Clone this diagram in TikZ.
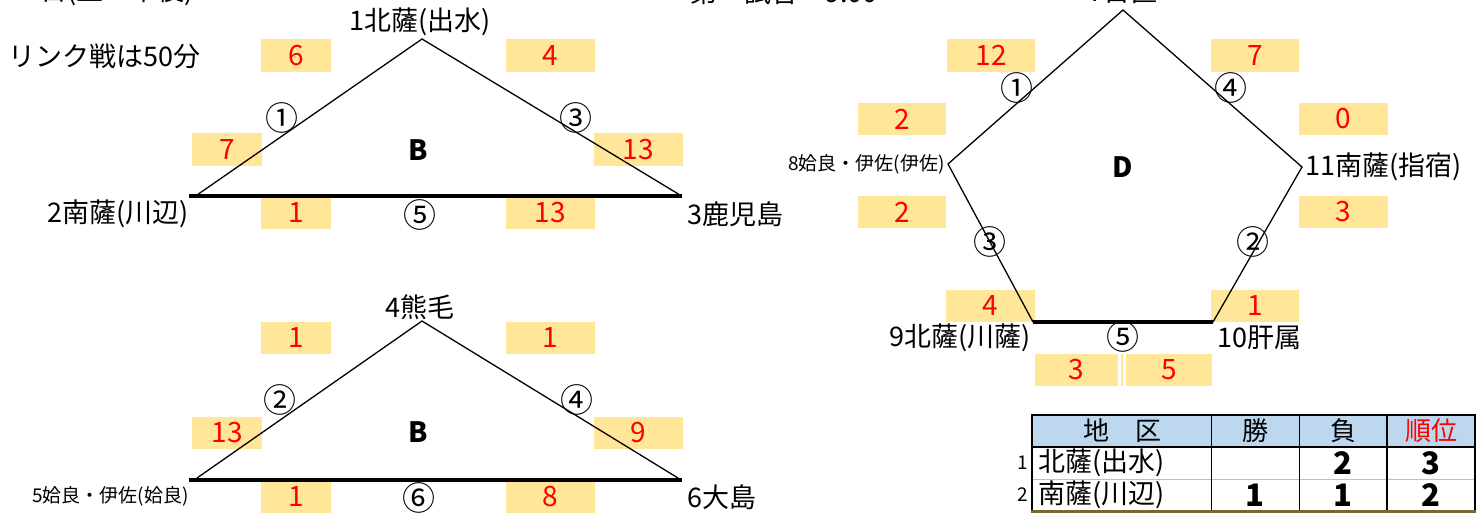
\documentclass[tikz,border=0pt]{standalone}
\usepackage{fontspec}
\setmainfont{Noto Sans CJK JP}
\definecolor{cellyel}{RGB}{255,230,153}
\definecolor{hdrblue}{RGB}{189,215,238}
\definecolor{rowbrown}{RGB}{125,100,50}
\newcommand\scorecell[6]{\fill[cellyel] (#2,#3) rectangle node[score] (#1) {#6} (#4,#5);}
\begin{document}
\begin{tikzpicture}[x=1pt,y=-1pt,
  lbl/.style={inner sep=0, font=\fontsize{27}{27}\selectfont},
  small/.style={inner sep=0, font=\fontsize{19}{19}\selectfont},
  circ/.style={inner sep=0, font=\fontsize{33}{33}\selectfont},
  grp/.style={inner sep=0, font=\fontsize{28}{28}\selectfont\bfseries},
  score/.style={inner sep=0, text=red, font=\fontsize{28}{28}\selectfont},
  tnum/.style={inner sep=0, font=\fontsize{31}{31}\selectfont\bfseries},
  thead/.style={inner sep=0, font=\fontsize{26}{26}\selectfont},
  tname/.style={inner sep=0, font=\fontsize{27}{27}\selectfont},
  edge/.style={line width=1.3pt},
  base/.style={line width=3.5pt},
]
\useasboundingbox (0,0) rectangle (1483,513);
\clip (0,0) rectangle (1483,513);

% ---------- score cells ----------
\scorecell{a1}{261}{39}{331}{72}{6}
\scorecell{a2}{506}{39}{595}{72}{4}
\scorecell{a3}{192}{133}{262}{166}{7}
\scorecell{a4}{594}{133}{683}{166}{13}
\scorecell{a5}{261}{197}{331}{229}{1}
\scorecell{a6}{506}{197}{595}{229}{13}
\scorecell{b1}{261}{322}{331}{354}{1}
\scorecell{b2}{506}{322}{595}{354}{1}
\scorecell{b3}{192}{417}{262}{449}{13}
\scorecell{b4}{594}{417}{683}{449}{9}
\scorecell{b5}{261}{481}{331}{513}{1}
\scorecell{b6}{506}{481}{595}{513}{8}
\scorecell{d1}{947}{39}{1035}{72}{12}
\scorecell{d2}{1211}{39}{1299}{72}{7}
\scorecell{d3}{858}{103}{946}{135}{2}
\scorecell{d4}{1299}{103}{1388}{135}{0}
\scorecell{d5}{858}{196}{946}{228}{2}
\scorecell{d6}{1299}{196}{1388}{228}{3}
\scorecell{d7}{946}{290}{1035}{322}{4}
\scorecell{d8}{1211}{290}{1299}{322}{1}
\scorecell{d9}{1035}{354}{1118}{386}{3}
\scorecell{d10}{1126}{354}{1212}{386}{5}
\fill[cellyel] (1121,354) rectangle (1123,386);

% ---------- triangle 1 ----------
\coordinate (t1a) at (422,39);
\coordinate (t1b) at (197,195);
\coordinate (t1c) at (680,195);
\coordinate (t1l) at (189,196);
\coordinate (t1r) at (682,196);
\draw[edge] (t1b) -- (t1a) -- (t1c);
\draw[base] (t1l) -- (t1r);
\node[lbl] (n1) at (420,22) {1北薩(出水)};
\node[lbl, anchor=east] (n2) at (189,214) {2南薩(川辺)};
\node[lbl, anchor=west] (n3) at (687,214) {3鹿児島};
\node[circ] (c11) at (282,118) {①};
\node[circ] (c13) at (576,118) {③};
\node[circ] (c15) at (420,215) {⑤};
\node[grp] (g1) at (418,150) {B};
\node[lbl, anchor=west] (note) at (8,56) {リンク戦は50分};

% ---------- triangle 2 ----------
\coordinate (t2a) at (422,321);
\coordinate (t2b) at (197,478);
\coordinate (t2c) at (678,478);
\coordinate (t2l) at (189,480);
\coordinate (t2r) at (682,480);
\draw[edge] (t2b) -- (t2a) -- (t2c);
\draw[base] (t2l) -- (t2r);
\node[lbl] (n4) at (420,307) {4熊毛};
\node[small, anchor=east] (n5) at (189,496) {5姶良・伊佐(姶良)};
\node[lbl, anchor=west] (n6) at (687,497) {6大島};
\node[circ] (c22) at (280,400) {②};
\node[circ] (c24) at (577,400) {④};
\node[circ] (c26) at (419,498) {⑥};
\node[grp] (g2) at (418,432) {B};

% ---------- pentagon ----------
\coordinate (p1) at (1123,10);
\coordinate (p2) at (948,164);
\coordinate (p3) at (1033,322);
\coordinate (p4) at (1213,322);
\coordinate (p5) at (1302,167);
\draw[edge] (p3) -- (p2) -- (p1) -- (p5) -- (p4);
\draw[base] (p3) -- (p4);
\node[lbl] (n7) at (1123,-8) {7日置};
\node[small, anchor=east] (n8) at (945,164) {8姶良・伊佐(伊佐)};
\node[lbl, anchor=east] (n9) at (1031,338) {9北薩(川薩)};
\node[lbl, anchor=west] (n10) at (1217,338) {10肝属};
\node[lbl, anchor=west] (n11) at (1305,167) {11南薩(指宿)};
\node[circ] (c31) at (1017,88) {①};
\node[circ] (c34) at (1231,88) {④};
\node[circ] (c33) at (990,242) {③};
\node[circ] (c32) at (1253,242) {②};
\node[circ] (c35) at (1123,337) {⑤};
\node[grp] (g3) at (1123,167) {D};

% ---------- cut-off headings ----------
\node[lbl, anchor=west] (h1) at (10,-8) {14日(土・午後)};
\node[lbl, anchor=west] (h2) at (690,-8) {第一試合　9:00};

% ---------- table ----------
\fill[hdrblue] (1032,415) rectangle (1475,447);
\draw[line width=0.8pt, black!25] (1032,479) -- (1475,479);
\draw[line width=1pt] (1211,415) -- (1211,511);
\draw[line width=1pt] (1299,415) -- (1299,511);
\draw[line width=2.5pt] (1387,415) -- (1387,511);
\draw[line width=2pt] (1032,447) -- (1475,447);
\draw[line width=2.5pt] (1032,511) -- (1032,415) -- (1475,415) -- (1475,511);
\draw[line width=3pt, rowbrown] (1031,511.5) -- (1476,511.5);
\node[thead] (th1) at (1122,431) {地　区};
\node[thead] (th2) at (1255,431) {勝};
\node[thead] (th3) at (1343,431) {負};
\node[thead, text=red] (th4) at (1431,431) {順位};
\node[small] (r1) at (1023,463) {1};
\node[small] (r2) at (1023,495) {2};
\node[tname, anchor=west] (r1n) at (1038,463) {北薩(出水)};
\node[tname, anchor=west] (r2n) at (1038,495) {南薩(川辺)};
\node[tnum] (v13) at (1343,463) {2};
\node[tnum] (v14) at (1431,463) {3};
\node[tnum] (v22) at (1255,495) {1};
\node[tnum] (v23) at (1343,495) {1};
\node[tnum] (v24) at (1431,495) {2};
\end{tikzpicture}
\end{document}
